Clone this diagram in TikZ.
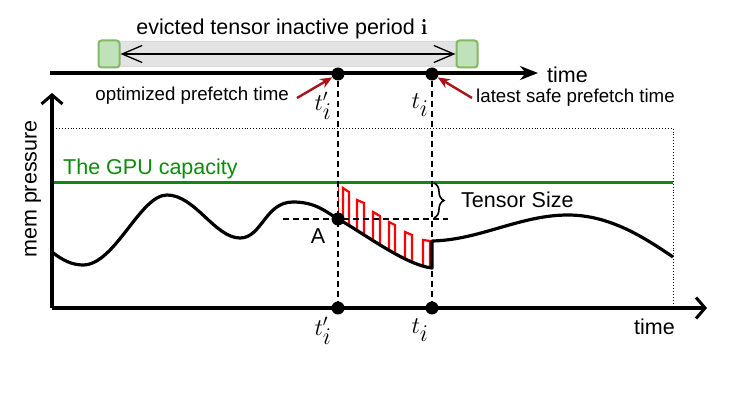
\RequirePackage{fix-cm}
\documentclass[tikz,border=0pt]{standalone}
\usepackage[no-math]{fontspec}
\setmainfont{Liberation Sans}
\usepackage{tikz}
\usetikzlibrary{arrows.meta, positioning, decorations.pathreplacing}
\usepackage{xcolor}
\definecolor{gpugreen}{RGB}{10,140,10}
\definecolor{arrred}{RGB}{170,20,25}
\definecolor{sqfill}{RGB}{192,226,186}
\definecolor{sqdraw}{RGB}{130,185,100}
\newcommand{\tprime}{$t'_{\textstyle i}$}
\newcommand{\tlate}{$t_{\textstyle i}$}

\begin{document}
\begin{tikzpicture}[
    x=1pt, y=-1pt,
    lbl/.style={font=\fontsize{21.5}{24}\selectfont, inner sep=0pt},
    smlbl/.style={font=\fontsize{18.7}{21}\selectfont, inner sep=0pt},
    tlbl/.style={font=\fontsize{24}{28}\selectfont, inner sep=0pt},
    dot/.style={circle, fill=black, minimum size=13pt, inner sep=0pt},
    sq/.style={rectangle, draw=sqdraw, fill=sqfill, line width=2pt, rounded corners=3pt, minimum width=21pt, minimum height=27pt, inner sep=0pt},
    bar/.style={rectangle, fill=gray!22, draw=gray!30, line width=1pt, rounded corners=3pt, minimum width=350pt, minimum height=25pt, inner sep=0pt},
    axis/.style={line width=3.2pt, -{Straight Barb[length=9pt, width=21pt, line width=3pt]}},
    dashline/.style={line width=2pt, dash pattern=on 6pt off 4pt},
    redarr/.style={arrred, line width=2.4pt, -{Stealth[length=12pt, width=10pt]}},
    pulse/.style={red, line width=2.2pt}
]
    \useasboundingbox (0,0) rectangle (748,398);

    % top time line
    \node[bar] (period) at (288,54) {};
    \node[sq] (ls) at (109,54) {};
    \node[sq] (rs) at (467,54) {};
    \draw[line width=1.3pt, {Straight Barb[length=20pt, width=17pt, line width=1.3pt]}-{Straight Barb[length=20pt, width=17pt, line width=1.3pt]}] (ls.east) -- (rs.west);
    \node[lbl] (periodtxt) at (282,29) {evicted tensor inactive period $\mathbf{i}$};

    \coordinate (tstart) at (50,73);
    \coordinate (tend) at (538,73);
    \draw[line width=3.2pt, -{Stealth[length=18pt, width=14pt]}] (tstart) -- (tend);
    \node[lbl, anchor=west] (ttime) at (547,75) {time};

    \node[dot] (tp) at (338,74) {};
    \node[dot] (tl) at (432,74) {};
    \node[tlbl] (tplbl) at (323,106) {\tprime};
    \node[tlbl] (tllbl) at (420,105) {\tlate};

    \node[smlbl, anchor=east] (opt) at (289,96) {optimized prefetch time};
    \node[smlbl, anchor=west] (lat) at (476,98) {latest safe prefetch time};
    \draw[redarr] ([xshift=8pt, yshift=-2pt]opt.east) -- (tp);
    \draw[redarr] ([xshift=-4pt]lat.west) -- (tl);

    % memory plot
    \coordinate (origin) at (52,308);
    \coordinate (ytop) at (52,93);
    \coordinate (xend) at (707,308);
    \draw[dotted, line width=0.9pt] (56,128) -- (673,128) -- (673,308);
    \draw[line width=3pt, gpugreen] (52,183) -- (673,183);
    \node[lbl, anchor=west, text=gpugreen] (gpu) at (63,169) {The GPU capacity};
    \node[lbl, rotate=90] (mem) at (33,189) {mem pressure};

    \node[dot] (bp) at (338,308) {};
    \node[dot] (bl) at (432,308) {};
    \node[tlbl] (bplbl) at (323,331) {\tprime};
    \node[tlbl] (bllbl) at (420,330) {\tlate};
    \node[lbl, anchor=east] (btime) at (675,327) {time};

    % red refill pulses
    \begin{scope}
        \clip (338,150) -- (338,219) .. controls (362,232) and (405,265) .. (432,268) -- (432,150) -- cycle;
        \draw[pulse] (338,183) -- (338,280);
        \foreach \xa/\ya/\xb/\yb in {343/188/349/192, 357/200/364/203, 373/212/380/216, 389/222/395/225, 405/232/412/235, 423/240/430/241}
            \draw[pulse] (\xa,280) -- (\xa,\ya) -- (\xb,\yb) -- (\xb,280);
    \end{scope}

    % pressure curve
    \draw[line width=3.2pt, line join=round]
        (52,252) .. controls (62,260) and (72,265) .. (83,265)
        .. controls (115,265) and (140,195) .. (167,195)
        .. controls (195,195) and (215,238) .. (240,238)
        .. controls (262,238) and (265,202) .. (293,202)
        .. controls (315,202) and (325,211) .. (338,219)
        .. controls (362,232) and (405,265) .. (432,268)
        -- (432,241)
        .. controls (480,240) and (520,215) .. (568,215)
        .. controls (610,215) and (645,238) .. (673,257);

    \draw[dashline] (tp) -- (bp);
    \draw[dashline] (tl) -- (bl);
    \draw[dashline] (283,219) -- (448,219);
    \node[dot] (A) at (338,219) {};
    \node[lbl] (Albl) at (318,236) {A};

    \draw[line width=1.6pt, decorate, decoration={brace, amplitude=10pt}] (434,183) -- (434,218);
    \node[lbl, anchor=west] (tsize) at (461,200) {Tensor Size};

    \draw[axis] (origin) -- (ytop);
    \draw[axis] (origin) -- (xend);
\end{tikzpicture}
\end{document}
